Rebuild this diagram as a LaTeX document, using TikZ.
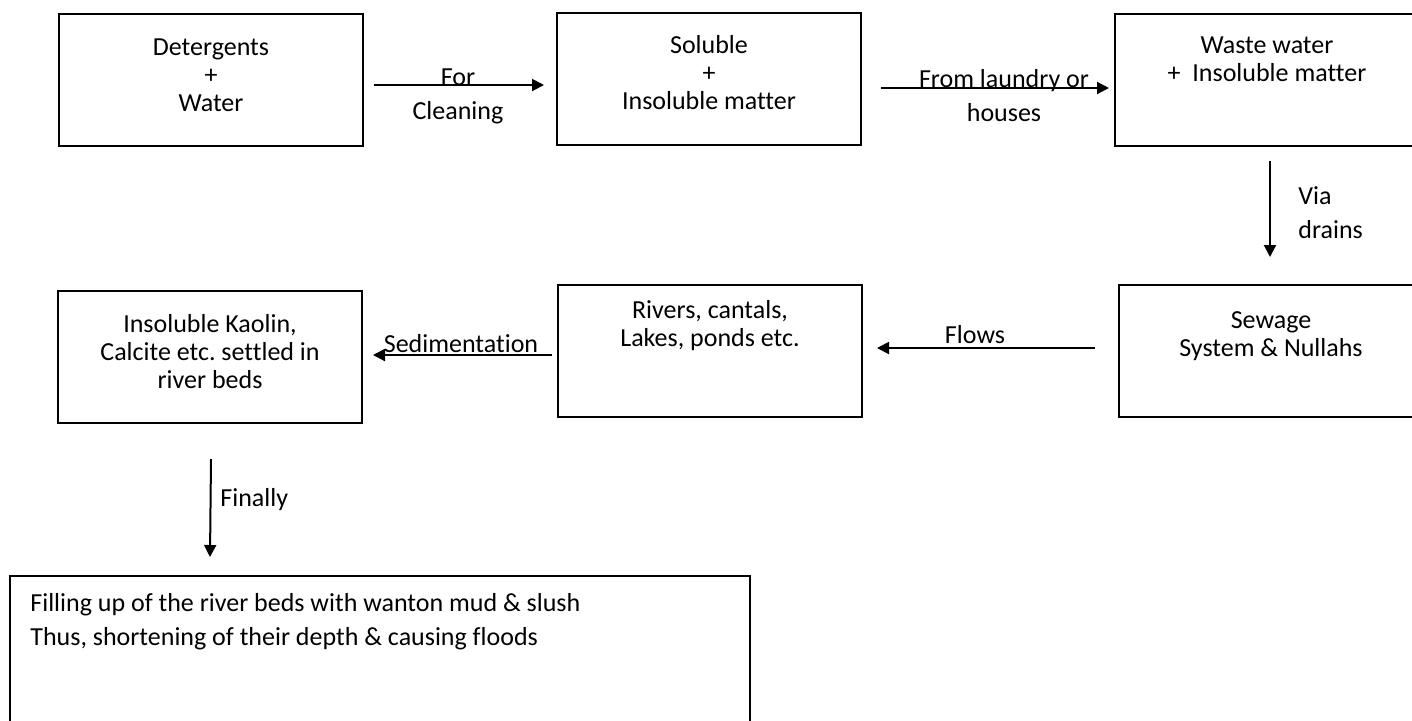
\documentclass[tikz,border=0pt]{standalone}
\usepackage{fontspec}
\setmainfont{Carlito}[Ligatures=NoCommon]
\frenchspacing
\usetikzlibrary{arrows.meta,positioning}
\tikzset{
  box/.style={rectangle,draw=black,line width=1pt,
              minimum width=152pt,minimum height=66pt,inner sep=0pt},
  txt/.style={font=\fontsize{13}{14}\selectfont,align=center,inner sep=0pt},
  lbl/.style={font=\fontsize{13}{17}\selectfont,align=center,inner sep=0pt},
  arr/.style={-{Triangle[length=6pt,width=6pt]},line width=1pt},
}

\begin{document}
\begin{tikzpicture}[x=0.5pt,y=-0.5pt]
        \useasboundingbox (0,0) rectangle (1412,720);

        % top row
        \node[box] (det) at (211,80) {};
        \node[txt] (dettxt) at (211,75) {Detergents\\+\\Water};
        \node[box] (sol) at (709,79) {};
        \node[txt] (soltxt) at (709,73) {Soluble\\+\\Insoluble matter};
        \node[box] (waste) at (1267,80) {};
        \node[txt] (wastetxt) at (1267,59) {Waste water\\+~~Insoluble matter};

        % middle row
        \node[box] (sewage) at (1271,351) {};
        \node[txt] (sewagetxt) at (1271,336) {Sewage\\System \& Nullahs};
        \node[box] (rivers) at (710,351) {};
        \node[txt] (riverstxt) at (710,326) {Rivers, cantals,\\Lakes, ponds etc.};
        \node[box] (kaolin) at (210,357) {};
        \node[txt] (kaolintxt) at (210,352)
          {Insoluble Kaolin,\\Calcite etc. settled in\\river beds};

        % bottom box
        \node[box, minimum width=370pt, minimum height=75pt] (fill) at (380,651) {};
        \node[lbl, align=left, anchor=west] (filltxt) at (30,622)
          {Filling up of the river beds with wanton mud \& slush\\
           Thus, shortening of their depth \& causing floods};

        % arrows
        \draw[arr] ([shift={(10,5)}]det.east) -- ([shift={(-12,6)}]sol.west);
        \node[lbl] (forlbl) at (458,96) {For\\Cleaning};

        \draw[arr] ([shift={(19,9)}]sol.east) -- ([shift={(-5,8)}]waste.west);
        \node[lbl] (fromlbl) at (1004,96) {From laundry or\\houses};

        \draw[arr] ([shift={(3,14)}]waste.south) -- ([shift={(-1,-27)}]sewage.north);
        \node[lbl, align=left, anchor=west] (vialbl) at (1298,213) {Via\\drains};

        \draw[arr] ([shift={(-23,-3)}]sewage.west) -- ([shift={(14,-3)}]rivers.east);
        \node[lbl] (flowlbl) at (975,335) {Flows};

        \draw[arr] ([shift={(-5,4)}]rivers.west) -- ([shift={(10,-2)}]kaolin.east);
        \node[lbl] (sedlbl) at (461,344) {Sedimentation};

        \draw[arr] ([shift={(1,35)}]kaolin.south) -- ([shift={(201,-18)}]fill.north west);
        \node[lbl, anchor=west] (finlbl) at (220,500) {Finally};

      \end{tikzpicture}
\end{document}
